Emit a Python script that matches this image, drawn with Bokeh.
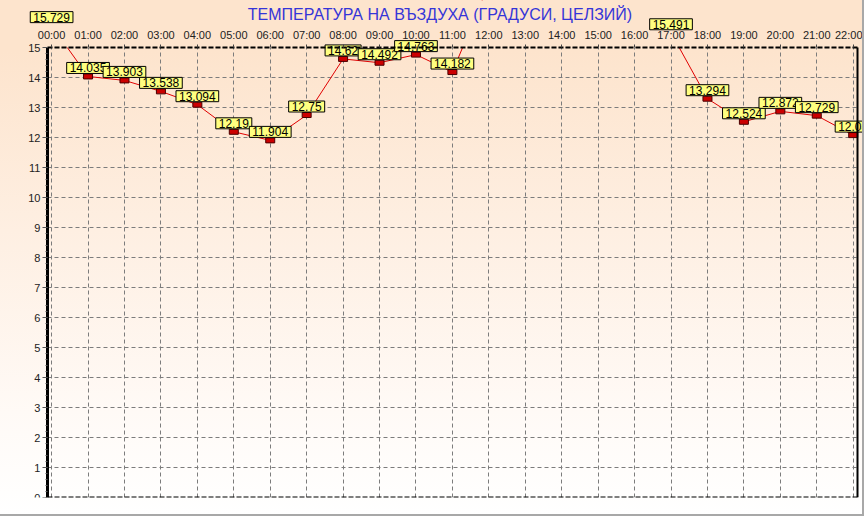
import numpy as np
from bokeh.plotting import figure
from bokeh.models import (ColumnDataSource, Label, LinearAxis, FixedTicker,
                          SingleIntervalTicker, Range1d, Grid)
from bokeh.core.properties import value
from bokeh.embed import file_html
from bokeh.resources import INLINE

# ---------------- data ----------------
title_text = "ТЕМПЕРАТУРА НА ВЪЗДУХА  (ГРАДУСИ, ЦЕЛЗИЙ)"
hours = [0, 1, 2, 3, 4, 5, 6, 7, 8, 9, 10, 11, 12, 13, 14, 15, 16, 17, 18, 19, 20, 21, 22]
hour_labels = ["00:00", "01:00", "02:00", "03:00", "04:00", "05:00", "06:00", "07:00",
               "08:00", "09:00", "10:00", "11:00", "12:00", "13:00", "14:00", "15:00",
               "16:00", "17:00", "18:00", "19:00", "20:00", "21:00", "22:00"]
nan = float("nan")
temps = [15.729, 14.035, 13.903, 13.538, 13.094, 12.19, 11.904, 12.75, 14.62, 14.492,
         14.763, 14.182, 17.1, nan, nan, nan, nan, 15.491, 13.294, 12.524, 12.872,
         12.729, 12.08]
y_min, y_max = 0, 15

# ---------------- layout constants ----------------
FONT = "Liberation Sans"
TOP_BG = "#fde4cd"
box_x0, box_x1 = -0.113, 22.118      # plot box edges (data units)
view_x0, view_x1 = -1.4025, 22.31    # whole canvas width
view_y1 = 16.567                     # canvas top (room for title and top labels)
label_limit = 16.3                   # labels above this fall outside the picture

src = ColumnDataSource(dict(x=np.array(hours, dtype=float), y=np.array(temps, dtype=float)))
valid = [i for i, t in enumerate(temps) if t == t and t <= label_limit]
lab_src = ColumnDataSource(dict(x=[hours[i] for i in valid],
                                y=[temps[i] for i in valid],
                                t=[f"{temps[i]:g}" for i in valid]))

p = figure(width=864, height=516, output_backend="svg", toolbar_location=None,
           x_range=Range1d(view_x0, view_x1), y_range=Range1d(y_min, view_y1),
           x_axis_type=None, y_axis_type=None,
           min_border_left=0, min_border_right=0, min_border_top=0, min_border_bottom=19)
p.background_fill_alpha = 0
p.border_fill_alpha = 0
p.outline_line_color = None
p.styles = {"background": "linear-gradient(to bottom, %s 0%%, %s 10%%, #feefe2 45%%, #fffaf6 80%%, #ffffff 100%%)" % (TOP_BG, TOP_BG),
            "border-right": "2px solid #a8a8a8", "border-bottom": "2px solid #a8a8a8"}

# grids
xgrid = Grid(dimension=0, ticker=FixedTicker(ticks=hours), grid_line_color="#7c7c7c",
             grid_line_dash="4 3", grid_line_width=1)
ygrid = Grid(dimension=1, ticker=SingleIntervalTicker(interval=1), grid_line_color="#7c7c7c",
             grid_line_dash="4 3", grid_line_width=1)
try:
    xgrid.cross_bounds = (y_min, y_max)
    ygrid.cross_bounds = (box_x0, box_x1)
except Exception:
    pass
ygrid.bounds = (y_min, y_max)
p.add_layout(xgrid)
p.add_layout(ygrid)

# data
p.line("x", "y", source=src, line_color="#e00000", line_width=1)
p.rect("x", "y", source=src, width=9, height=5, width_units="screen", height_units="screen",
       fill_color="#cc0000", line_color="#4a0000", line_width=1)
# the plot box clips the series at its top edge
p.quad(left=[view_x0], right=[view_x1], bottom=[y_max], top=[view_y1],
       fill_color=TOP_BG, line_color=None)

# axes
top_axis = LinearAxis(fixed_location=y_max, bounds=(box_x0, box_x1),
                      ticker=FixedTicker(ticks=hours),
                      major_label_overrides={h: lab for h, lab in zip(hours, hour_labels)},
                      major_label_text_font=FONT, major_label_text_font_size="11px",
                      major_label_text_color="#222222", major_label_standoff=4,
                      major_tick_out=3, major_tick_in=0, major_tick_line_color="#444444",
                      minor_tick_line_color=None,
                      axis_line_color="black", axis_line_width=2, axis_line_dash="5 2")
p.add_layout(top_axis, "above")

left_axis = LinearAxis(fixed_location=box_x0, bounds=(y_min, y_max),
                       ticker=SingleIntervalTicker(interval=1, num_minor_ticks=5),
                       major_label_text_font=FONT, major_label_text_font_size="11px",
                       major_label_text_color="#222222", major_label_standoff=2,
                       major_tick_out=5, major_tick_in=0, major_tick_line_color="#555555",
                       minor_tick_out=2, minor_tick_in=0, minor_tick_line_color="#555555",
                       axis_line_color="black", axis_line_width=3)
p.add_layout(left_axis, "left")

bottom_axis = LinearAxis(fixed_location=y_min, bounds=(box_x0, box_x1),
                         ticker=FixedTicker(ticks=[]), axis_line_color="black",
                         axis_line_width=2, axis_line_dash="5 2",
                         major_tick_line_color=None, minor_tick_line_color=None)
p.add_layout(bottom_axis, "below")

right_axis = LinearAxis(fixed_location=box_x1, bounds=(y_min, y_max),
                        ticker=FixedTicker(ticks=[]), axis_line_color="black",
                        axis_line_width=2,
                        major_tick_line_color=None, minor_tick_line_color=None)
p.add_layout(right_axis, "right")

# value labels (yellow boxes)
lab_r = p.text("x", "y", text="t", source=lab_src, text_align="center",
               text_baseline="bottom", y_offset=-3, text_font=value(FONT),
               text_font_size="12px", text_color="black",
               background_fill_color="#ffff80",
               border_line_color="black", border_line_width=1)
try:
    lab_r.glyph.padding = dict(left=3, right=3, top=1, bottom=1)
except Exception:
    try:
        lab_r.glyph.padding = 2
    except Exception:
        pass

title_label = Label(x=10.72, y=16.1, text=title_text,
                    text_align="center", text_baseline="middle", text_font=FONT,
                    text_font_size="16px", text_color="#3535d8")
p.add_layout(title_label)

open("out.html", "w").write(file_html(p, INLINE))
